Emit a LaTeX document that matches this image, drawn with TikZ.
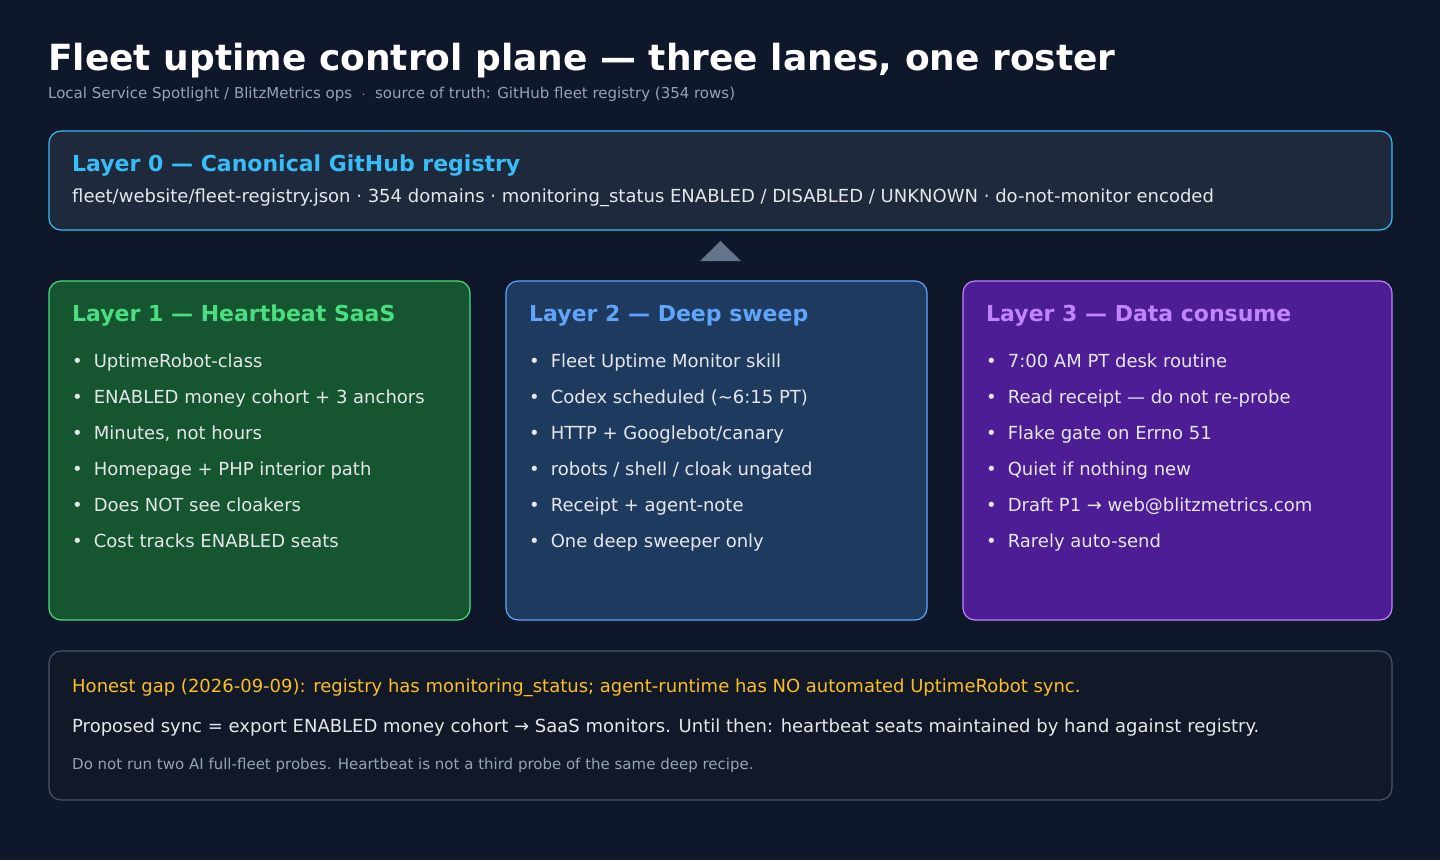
\documentclass[tikz,border=0pt]{standalone}
\usepackage{fontspec}
\setmainfont{DejaVu Sans}
\usetikzlibrary{positioning}
\definecolor{bgc}{HTML}{0F172A}
\definecolor{slate}{HTML}{1E293B}
\definecolor{sky}{HTML}{38BDF8}
\definecolor{grn}{HTML}{4ADE80}
\definecolor{grnfill}{HTML}{15552F}
\definecolor{blu}{HTML}{60A5FA}
\definecolor{blufill}{HTML}{1E3A5F}
\definecolor{pur}{HTML}{C084FC}
\definecolor{purfill}{HTML}{4C1D95}
\definecolor{gapfill}{HTML}{111827}
\definecolor{gapline}{HTML}{475569}
\definecolor{muted}{HTML}{94A3B8}
\definecolor{amber}{HTML}{FBBF24}
\definecolor{arrowc}{HTML}{64748B}
\definecolor{txt}{HTML}{E5E7EB}
\tikzset{
  panel/.style={rounded corners=12pt, line width=1.2pt},
  head/.style={anchor=west, font=\fontsize{22}{26}\selectfont\bfseries, inner sep=0pt, text height=16pt, text depth=4pt},
  body/.style={anchor=west, font=\fontsize{18}{21}\selectfont, text=txt, inner sep=0pt, text height=13pt, text depth=4pt},
  small/.style={anchor=west, font=\fontsize{15}{17}\selectfont, text=muted, inner sep=0pt, text height=11pt, text depth=3pt}
}
\begin{document}
\begin{tikzpicture}[x=1pt,y=-1pt]
\fill[bgc] (0,0) rectangle (1440,860);
\useasboundingbox (0,0) rectangle (1440,860);
% title
\node[anchor=west, inner sep=0pt, text=white, font=\fontsize{36}{40}\selectfont\bfseries, text height=27pt, text depth=7pt] (title) at (48,60) {Fleet uptime control plane — three lanes, one roster};
\node[small] (sub) at (48,94) {Local Service Spotlight / BlitzMetrics ops \ $\cdot$\ \ source of truth: GitHub fleet registry (354 rows)};
% layer 0
\draw[panel, draw=sky, fill=slate] (49,131) rectangle (1392,230);
\node[head, text=sky] (l0) at (72,165) {Layer 0 — Canonical GitHub registry};
\node[body] (l0b) at (72,198) {fleet/website/fleet-registry.json · 354 domains · monitoring\_status ENABLED / DISABLED / UNKNOWN · do-not-monitor encoded};
\fill[arrowc] (700,261) -- (720.5,241) -- (741,261) -- cycle;
% layers 1-3
\draw[panel, draw=grn, fill=grnfill] (49,281) rectangle (470,620);
\draw[panel, draw=blu, fill=blufill] (506,281) rectangle (927,620);
\draw[panel, draw=pur, fill=purfill] (963,281) rectangle (1392,620);
\node[head, text=grn] (l1) at (72,315) {Layer 1 — Heartbeat SaaS};
\node[head, text=blu] (l2) at (529,315) {Layer 2 — Deep sweep};
\node[head, text=pur] (l3) at (986,315) {Layer 3 — Data consume};
\foreach \t [count=\i from 0] in {UptimeRobot-class, ENABLED money cohort + 3 anchors, {Minutes, not hours}, Homepage + PHP interior path, Does NOT see cloakers, Cost tracks ENABLED seats}
  \node[body] (a\i) at (72,363+36*\i) {•\hspace{11pt}\t};
\foreach \t [count=\i from 0] in {Fleet Uptime Monitor skill, Codex scheduled (\textasciitilde6:15 PT), HTTP + Googlebot/canary, robots / shell / cloak ungated, Receipt + agent-note, One deep sweeper only}
  \node[body] (b\i) at (529,363+36*\i) {•\hspace{11pt}\t};
\foreach \t [count=\i from 0] in {7:00 AM PT desk routine, Read receipt — do not re-probe, Flake gate on Errno 51, Quiet if nothing new, Draft P1 → web@blitzmetrics.com, Rarely auto-send}
  \node[body] (c\i) at (986,363+36*\i) {•\hspace{11pt}\t};
% gap
\draw[panel, draw=gapline, fill=gapfill] (49,651) rectangle (1392,800);
\node[body, text=amber] (g1) at (72,688) {Honest gap (2026-09-09): registry has monitoring\_status; agent-runtime has NO automated UptimeRobot sync.};
\node[body] (g2) at (72,728) {Proposed sync = export ENABLED money cohort → SaaS monitors. Until then: heartbeat seats maintained by hand against registry.};
\node[small] (g3) at (72,765) {Do not run two AI full-fleet probes. Heartbeat is not a third probe of the same deep recipe.};
\end{tikzpicture}
\end{document}
